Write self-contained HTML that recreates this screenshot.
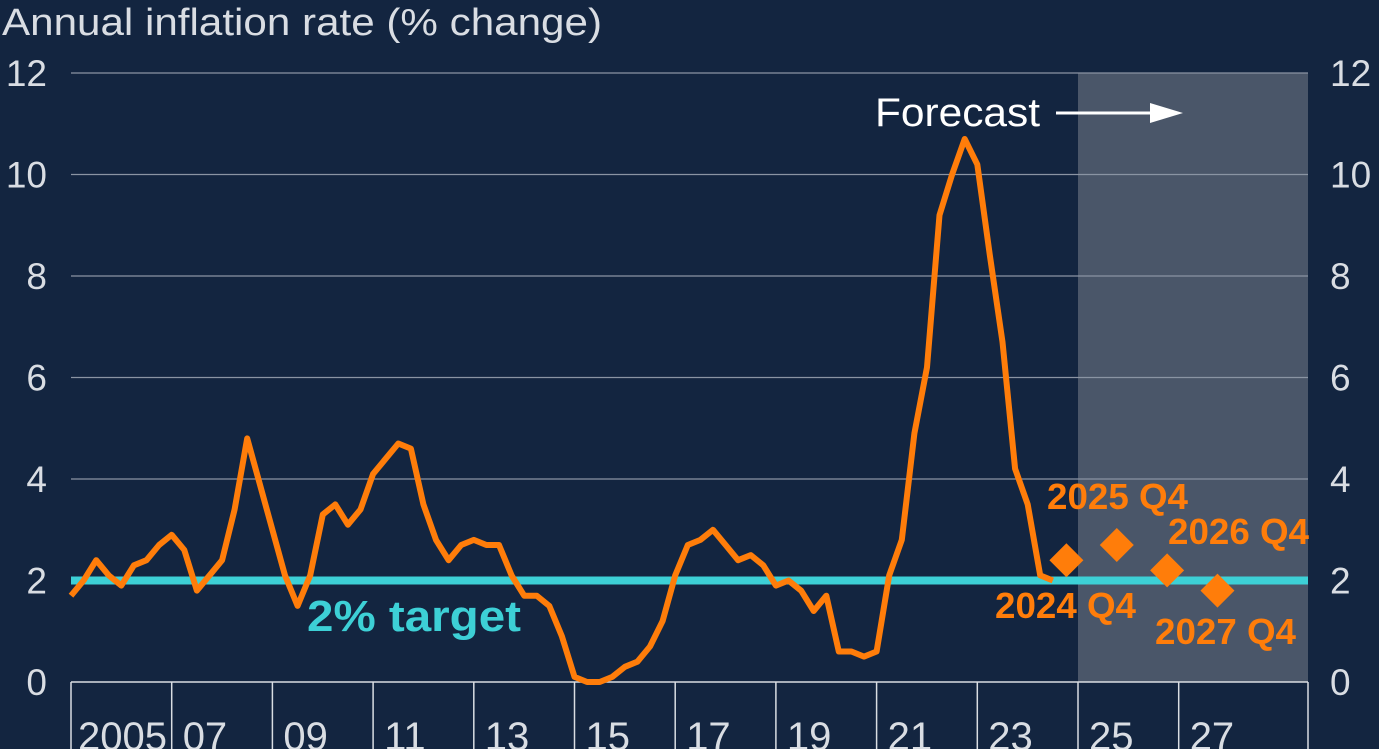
<!DOCTYPE html>
<html><head><meta charset="utf-8"><style>
html,body{margin:0;padding:0;background:#132540;}
svg{display:block;font-family:"Liberation Sans",Arial,sans-serif;}
</style></head><body>
<svg id="chart" width="1379" height="749" viewBox="0 0 1379 749">
<rect width="1379" height="749" fill="#132540"/>
<text x="2" y="35" font-size="38" textLength="600" lengthAdjust="spacingAndGlyphs" fill="#d9dde3">Annual inflation rate (% change)</text>
<g id="g"></g>
</svg>
<script>
const yTicks=[0,2,4,6,8,10,12];
const xTickLabels=["2005","07","09","11","13","15","17","19","21","23","25","27"];
const inflation=[1.7,2.0,2.4,2.1, 1.9,2.3,2.4,2.7, 2.9,2.6,1.8,2.1, 2.4,3.4,4.8,3.9, 3.0,2.1,1.5,2.1, 3.3,3.5,3.1,3.4, 4.1,4.4,4.7,4.6, 3.5,2.8,2.4,2.7, 2.8,2.7,2.7,2.1, 1.7,1.7,1.5,0.9, 0.1,0.0,0.0,0.1, 0.3,0.4,0.7,1.2, 2.1,2.7,2.8,3.0, 2.7,2.4,2.5,2.3, 1.9,2.0,1.8,1.4, 1.7,0.6,0.6,0.5, 0.6,2.1,2.8,4.9, 6.2,9.2,10.0,10.7, 10.2,8.4,6.7,4.2, 3.5,2.1,2.0];
const forecastLabels=["2024 Q4","2025 Q4","2026 Q4","2027 Q4"];
const forecastYears=[2024,2025,2026,2027];
const forecastValues=[2.4,2.7,2.2,1.8];
const target=2;
const NS="http://www.w3.org/2000/svg";
const g=document.getElementById('g');
const X0=71,X1=1308,Y0=682,Y12=73;
const x=t=>X0+(t-2005)*50.35;
const y=v=>Y0-(v/12)*(Y0-Y12);
function mk(tag,attrs,txt){const e=document.createElementNS(NS,tag);for(const k in attrs)e.setAttribute(k,attrs[k]);if(txt!==undefined)e.textContent=txt;g.appendChild(e);return e;}
let sh=mk('rect',{x:x(2025),y:Y12,width:X1-x(2025),height:Y0-Y12,fill:'#4a5669'});


yTicks.forEach(v=>{
  if(v>0){let l=mk('line',{x1:X0,x2:X1,y1:y(v),y2:y(v),stroke:'#8a94a3','stroke-width':1.2});
  
  }
  const w=String(v).length*21;
  let a=mk('text',{x:47,y:y(v)+13,'font-size':37,fill:'#d9dde3','text-anchor':'end'},v);
  
  
  let b=mk('text',{x:1330,y:y(v)+13,'font-size':37,fill:'#d9dde3'},v);
  
  
});
let ax=mk('line',{x1:X0,x2:X1,y1:Y0,y2:Y0,stroke:'#d9dde3','stroke-width':1.5});


xTickLabels.forEach((lab,i)=>{
  const t=2005+2*i;
  let tk=mk('line',{x1:x(t),x2:x(t),y1:Y0,y2:749,stroke:'#d9dde3','stroke-width':1.5});
  
  
  let tx=mk('text',{x:x(t)+(i==0?7:11),y:750,'font-size':40,fill:'#d9dde3'},lab);
  
  
});
let rt=mk('line',{x1:X1,x2:X1,y1:Y0,y2:749,stroke:'#d9dde3','stroke-width':1.5});


let tl=mk('line',{x1:X0,x2:X1,y1:y(target),y2:y(target),stroke:'#3dd0d6','stroke-width':8});


let tt=mk('text',{x:307,y:631,'font-size':44,'font-weight':'bold',fill:'#3dd0d6',textLength:214,lengthAdjust:'spacingAndGlyphs'},'2% target');


const pts=inflation.map((v,i)=>x(2005+i/4).toFixed(1)+','+y(v).toFixed(1)).join(' ');
let pl=mk('polyline',{points:pts,fill:'none',stroke:'#ff7d0a','stroke-width':6,'stroke-linejoin':'round'});


const labPos=[[995,618],[1047,509],[1168,544],[1155,644]];
forecastValues.forEach((v,i)=>{
  const cx=x(forecastYears[i]+0.77),cy=y(v),r=17;
  let d=mk('polygon',{points:`${cx},${cy-r} ${cx+r},${cy} ${cx},${cy+r} ${cx-r},${cy}`,fill:'#ff7d0a'});
  
  
  let t=mk('text',{x:labPos[i][0],y:labPos[i][1],'font-size':36,'font-weight':'bold',fill:'#ff7d0a',textLength:141,lengthAdjust:'spacingAndGlyphs'},forecastLabels[i]);
  
  
});
let ft=mk('text',{x:875,y:126,'font-size':40,fill:'#ffffff',textLength:165,lengthAdjust:'spacingAndGlyphs'},'Forecast');


let fa=mk('line',{x1:1056,x2:1160,y1:113,y2:113,stroke:'#ffffff','stroke-width':3});


let fh=mk('polygon',{points:'1183,113 1150,103 1150,123',fill:'#ffffff'});


</script>
</body></html>
